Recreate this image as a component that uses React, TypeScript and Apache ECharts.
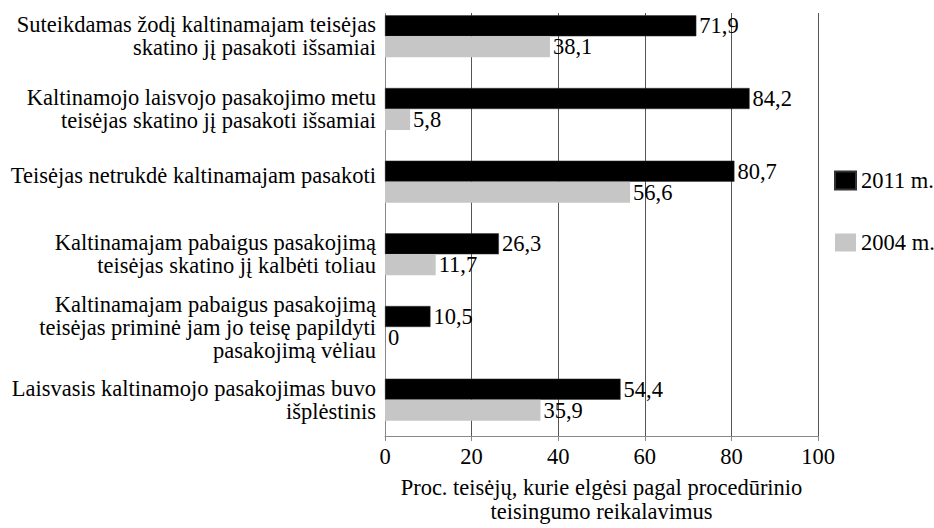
import React, { useEffect, useRef } from "react";
import * as echarts from "echarts";

const categories: string[] = [
  "Suteikdamas žodį kaltinamajam teisėjas\nskatino jį pasakoti išsamiai",
  "Kaltinamojo laisvojo pasakojimo metu\nteisėjas skatino jį pasakoti išsamiai",
  "Teisėjas netrukdė kaltinamajam pasakoti",
  "Kaltinamajam pabaigus pasakojimą\nteisėjas skatino jį kalbėti toliau",
  "Kaltinamajam pabaigus pasakojimą\nteisėjas priminė jam jo teisę papildyti\npasakojimą vėliau",
  "Laisvasis kaltinamojo pasakojimas buvo\nišplėstinis",
];
const values2011: number[] = [71.9, 84.2, 80.7, 26.3, 10.5, 54.4];
const values2004: number[] = [38.1, 5.8, 56.6, 11.7, 0, 35.9];
const seriesNames: string[] = ["2011 m.", "2004 m."];
const axisName = "Proc. teisėjų, kurie elgėsi pagal procedūrinio\nteisingumo reikalavimus";

const FONT = "Liberation Serif";
const FS = 22.5;

export default function App() {
  const ref = useRef<HTMLDivElement>(null);
  useEffect(() => {
    document.body.style.margin = "0";
    if (!ref.current) return;
    const chart = echarts.init(ref.current, null, { renderer: "svg" });
    const label = {
      show: true,
      position: "right" as const,
      distance: 3,
      color: "#000",
      fontFamily: FONT,
      fontSize: FS,
      formatter: (p: any) => String(p.value).replace(".", ","),
    };
    chart.setOption({
      animation: false,
      backgroundColor: "#fff",
      textStyle: { fontFamily: FONT, color: "#000", fontSize: FS },
      grid: { left: 385, right: 116, top: -3, bottom: 87, containLabel: false },
      legend: {
        orient: "vertical",
        left: 829,
        top: 164,
        itemWidth: 21,
        itemHeight: 18,
        itemGap: 39,
        icon: "rect",
        textStyle: { fontFamily: FONT, fontSize: FS, color: "#000" },
        data: seriesNames,
      },
      xAxis: {
        type: "value",
        min: 0,
        max: 100,
        interval: 20,
        axisLine: { show: true, lineStyle: { color: "#888", width: 1 } },
        axisTick: { show: true, length: 5, lineStyle: { color: "#888" } },
        splitLine: { show: true, lineStyle: { color: "#555", width: 1 } },
        axisLabel: { fontFamily: FONT, fontSize: FS, color: "#000", margin: 9 },
        name: axisName,
        nameLocation: "middle",
        nameGap: 40,
        nameTextStyle: { fontFamily: FONT, fontSize: FS, color: "#000", lineHeight: 23.5 },
      },
      yAxis: {
        type: "category",
        inverse: true,
        data: categories,
        axisLine: { show: true, lineStyle: { color: "#888", width: 1 } },
        axisTick: { show: false },
        axisLabel: {
          fontFamily: FONT,
          fontSize: FS,
          color: "#000",
          margin: 9,
          lineHeight: 23,
          align: "right",
          formatter: (v: string) => (v.indexOf("\n") < 0 ? "{up|" + v + "}" : v),
          rich: {
            up: {
              fontFamily: FONT,
              fontSize: FS,
              color: "#000",
              lineHeight: 23,
              padding: [0, 0, 12, 0],
            },
          },
        },
      },
      series: [
        {
          name: seriesNames[0],
          type: "bar",
          data: values2011,
          barWidth: 21,
          barGap: "0%",
          itemStyle: { color: "#000", borderColor: "#333", borderWidth: 0.5 },
          label,
        },
        {
          name: seriesNames[1],
          type: "bar",
          data: values2004,
          barWidth: 21,
          barGap: "0%",
          itemStyle: { color: "#c6c6c6" },
          label,
        },
      ],
      graphic: [
        {
          type: "rect",
          z: 100,
          shape: { x: 370, y: -5, width: 470, height: 18 },
          style: { fill: "#fff" },
        },
      ],
    });
    return () => chart.dispose();
  }, []);
  return <div ref={ref} style={{ width: 934, height: 528 }} />;
}
